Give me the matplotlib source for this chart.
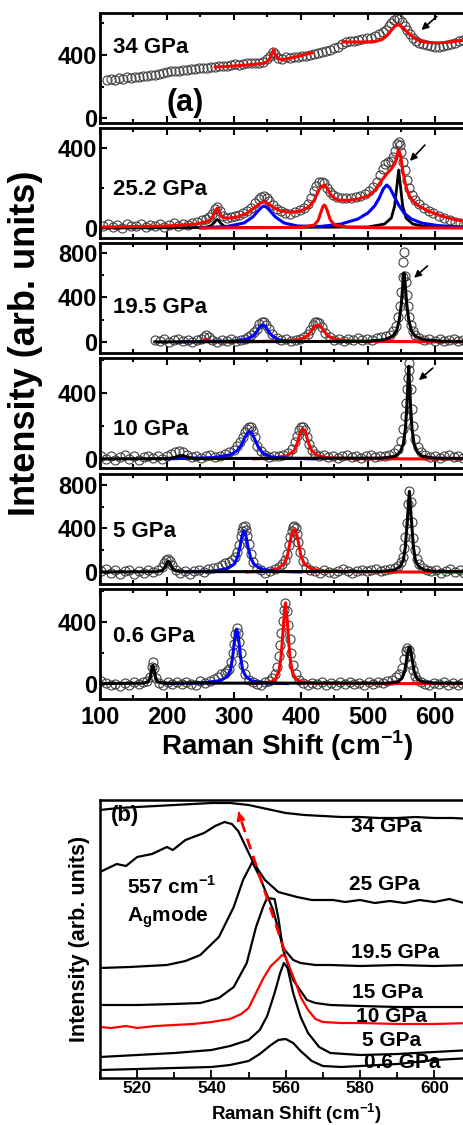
import numpy as np
import matplotlib
matplotlib.use("Agg")
import matplotlib.pyplot as plt
from matplotlib.ticker import MultipleLocator, NullLocator

plt.rcParams['font.family'] = ['Liberation Sans', 'DejaVu Sans']
plt.rcParams['font.weight'] = 'bold'
plt.rcParams['mathtext.fontset'] = 'custom'
plt.rcParams['mathtext.rm'] = 'Liberation Sans:bold'
plt.rcParams['mathtext.bf'] = 'Liberation Sans:bold'
plt.rcParams['axes.unicode_minus'] = False

# ---------------- panel (a) data ----------------
# 34 GPa
x1 = [110, 116, 122, 128, 134, 140, 146, 152, 158, 164,
      170, 176, 182, 188, 194, 200, 206, 212, 218, 224,
      230, 236, 242, 248, 254, 260, 266, 272, 278, 284,
      290, 296, 302, 308, 314, 320, 326, 332, 338, 344,
      350, 354, 358, 362, 366, 372, 378, 384, 390, 396,
      402, 408, 414, 420, 426, 432, 438, 444, 450, 456,
      462, 468, 474, 480, 486, 492, 498, 504, 510, 516,
      522, 527, 531, 535, 539, 543, 547, 551, 555, 559,
      563, 567, 572, 577, 582, 588, 594, 600, 606, 612,
      618, 624, 630, 636, 642, 648, 654, 660]
y1 = [240, 248, 244, 252, 250, 258, 255, 262, 260, 268,
      266, 274, 272, 280, 285, 290, 296, 300, 298, 306,
      304, 310, 314, 316, 320, 318, 324, 322, 328, 332,
      330, 336, 340, 338, 344, 348, 346, 352, 350, 358,
      372, 395, 420, 405, 380, 372, 385, 378, 390, 385,
      395, 392, 400, 405, 410, 418, 425, 432, 445, 450,
      470, 480, 490, 488, 495, 500, 505, 510, 518, 530,
      545, 560, 580, 600, 620, 635, 630, 610, 585, 560,
      535, 510, 490, 478, 468, 460, 455, 452, 450, 455,
      460, 468, 475, 485, 495, 505, 510, 515]
fit1a_x = [272, 300, 330, 345, 352, 356, 359, 362, 366, 372, 390, 416]
fit1a_y = [324, 330, 340, 348, 365, 400, 432, 400, 375, 370, 385, 413]
fit1b_x = [463, 490, 510, 520, 528, 535, 541, 546, 552, 560, 570, 580, 592, 605, 620, 640, 660]
fit1b_y = [482, 482, 484, 495, 520, 555, 585, 590, 575, 540, 505, 485, 478, 476, 480, 492, 505]

# 25.2 GPa
x2 = [105, 112, 119, 126, 133, 140, 147, 154, 161, 168,
      175, 182, 189, 196, 203, 210, 217, 224, 231, 238,
      245, 252, 258, 263, 267, 271, 275, 279, 284, 290,
      296, 302, 308, 314, 320, 326, 332, 337, 341, 345,
      349, 353, 358, 364, 370, 377, 384, 391, 398, 404,
      410, 415, 419, 423, 427, 431, 435, 439, 443, 448,
      454, 461, 468, 475, 482, 489, 496, 502, 508, 513,
      518, 522, 526, 530, 534, 538, 541, 544, 546, 548,
      550, 553, 556, 559, 562, 566, 571, 577, 584, 591,
      598, 606, 614, 622, 630, 638, 646, 654]
y2 = [10, 20, 5, 15, 0, 18, 8, 12, 22, 5,
      15, 10, 20, 5, 15, 25, 10, 20, 15, 25,
      30, 40, 45, 55, 70, 95, 105, 85, 60, 50,
      55, 60, 65, 75, 85, 100, 125, 145, 155, 160,
      150, 135, 115, 95, 85, 75, 72, 80, 90, 100,
      120, 150, 185, 210, 228, 232, 225, 200, 180, 165,
      155, 150, 152, 150, 155, 160, 172, 185, 205, 230,
      265, 295, 320, 330, 335, 355, 385, 420, 430, 415,
      380, 330, 290, 240, 200, 165, 140, 120, 100, 85,
      75, 60, 50, 40, 30, 25, 18, 15]
tot2_x = [105, 200, 245, 262, 268, 272, 275, 278, 282, 290, 305, 320, 332, 340, 345, 350,
          358, 370, 385, 400, 412, 420, 426, 430, 435, 440, 446, 455, 470, 485, 500, 510,
          520, 528, 535, 540, 543, 546, 549, 552, 556, 560, 566, 575, 590, 610, 630, 660]
tot2_y = [5, 10, 20, 35, 55, 85, 100, 80, 55, 48, 55, 75, 105, 125, 130, 125,
          105, 85, 78, 85, 105, 140, 185, 205, 215, 195, 160, 140, 138, 145, 160, 185,
          235, 270, 295, 320, 355, 390, 360, 290, 220, 175, 140, 112, 85, 60, 42, 25]
blue2_x = [250, 290, 315, 328, 336, 341, 345, 349, 354, 362, 375, 395, 430, 460, 485,
           500, 510, 517, 523, 528, 533, 539, 546, 554, 565, 580, 605, 635, 660]
blue2_y = [0, 8, 25, 55, 85, 103, 110, 103, 85, 55, 25, 10, 8, 20, 45,
           75, 110, 150, 195, 215, 200, 160, 115, 75, 45, 25, 12, 6, 4]
red2_x = [250, 400, 420, 426, 430, 433, 435, 437, 440, 444, 450, 470, 520, 660]
red2_y = [0, 3, 15, 40, 80, 108, 115, 108, 80, 40, 15, 4, 1, 0]
blk2_x = [105, 255, 265, 270, 273, 275, 277, 280, 285, 300, 500, 525, 535, 540, 543, 546,
          549, 552, 557, 567, 585, 620, 660]
blk2_y = [0, 2, 10, 25, 38, 42, 38, 25, 10, 2, 5, 20, 50, 110, 200, 290,
          200, 110, 50, 20, 8, 3, 2]

# 19.5 GPa
x3 = [182, 189, 196, 203, 210, 217, 224, 231, 238, 245,
      251, 255, 259, 263, 268, 275, 282, 289, 296, 303,
      310, 316, 321, 326, 330, 334, 338, 342, 345, 348,
      352, 357, 364, 371, 378, 385, 392, 399, 405, 410,
      414, 418, 421, 424, 427, 431, 436, 443, 450, 457,
      464, 471, 478, 485, 492, 499, 506, 513, 520, 527,
      533, 538, 542, 545, 548, 550, 552, 553, 554, 555,
      557, 558, 560, 562, 564, 567, 571, 577, 584, 592,
      600, 607, 614, 621, 628, 635, 642, 649, 656]
y3 = [20, 5, 25, 0, 15, 30, 5, 20, -5, 15,
      25, 45, 60, 40, 15, 0, 20, 5, 25, 10,
      20, 30, 45, 60, 85, 120, 160, 180, 175, 155,
      115, 70, 35, 15, 25, 5, 20, 30, 45, 70,
      110, 150, 175, 180, 170, 130, 80, 40, 20, 30,
      10, 25, 15, 35, 20, 30, 15, 35, 40, 50,
      65, 95, 140, 220, 320, 450, 580, 720, 810, 590,
      540, 420, 320, 220, 150, 95, 60, 35, 20, 30,
      10, 25, 5, 20, 30, 10, 20, 5, 15]
blk3_x = [182, 500, 525, 537, 543, 547, 550, 552, 554, 556, 558, 561, 565, 571, 583, 610, 656]
blk3_y = [0, 5, 20, 50, 100, 200, 340, 500, 620, 500, 340, 200, 100, 50, 20, 6, 3]
blue3_x = [220, 300, 320, 330, 335, 339, 343, 347, 351, 356, 366, 385]
blue3_y = [0, 8, 25, 60, 100, 140, 153, 140, 100, 60, 20, 3]
red3_x = [250, 255, 259, 263, 268, 330, 380, 400, 410, 415, 419, 422, 425, 428, 431,
          435, 440, 450, 470, 520, 600, 656]
red3_y = [0, 12, 25, 12, 0, 3, 10, 25, 55, 95, 130, 145, 150, 145, 130,
          95, 55, 25, 10, 4, 1, 0]

# 10 GPa
x4 = [102, 109, 116, 123, 130, 137, 144, 151, 158, 165,
      172, 179, 186, 193, 200, 206, 212, 218, 224, 230,
      237, 244, 251, 258, 265, 272, 279, 286, 293, 300,
      305, 309, 313, 316, 319, 322, 325, 328, 331, 335,
      340, 346, 353, 360, 367, 374, 381, 387, 391, 394,
      397, 400, 403, 406, 409, 412, 416, 421, 427, 434,
      441, 448, 455, 462, 469, 476, 483, 490, 497, 504,
      511, 518, 525, 532, 539, 545, 550, 553, 555, 557,
      559, 560, 561, 562, 564, 566, 568, 571, 575, 580,
      586, 593, 600, 607, 614, 621, 628, 635, 642, 649,
      656]
y4 = [15, 0, 20, -5, 10, 25, 0, 15, -8, 10,
      20, 5, 15, 0, 20, 30, 40, 45, 40, 25,
      10, 20, 5, 15, 25, 10, 20, 30, 40, 55,
      75, 100, 130, 160, 180, 190, 190, 170, 130, 80,
      45, 25, 10, 20, 15, 25, 35, 60, 100, 140,
      175, 195, 195, 175, 130, 90, 55, 30, 15, 25,
      10, 20, 5, 15, 25, 10, 20, 5, 15, 25,
      10, 20, 15, 25, 35, 60, 110, 180, 260, 340,
      420, 490, 580, 540, 420, 300, 200, 120, 70, 40,
      25, 10, 20, 5, 15, 25, 10, 20, 5, 15,
      20]
blk4_x = [102, 200, 212, 218, 222, 226, 232, 245, 520, 540, 548, 553, 556, 558, 560, 561,
          562, 564, 566, 569, 574, 582, 600, 660]
blk4_y = [0, 2, 8, 18, 20, 18, 8, 2, 5, 15, 40, 90, 180, 300, 470, 560,
          470, 300, 180, 90, 40, 15, 5, 2]
blue4_x = [200, 270, 295, 305, 312, 317, 321, 324, 327, 331, 336, 343, 355, 380, 420]
blue4_y = [0, 8, 25, 50, 90, 135, 160, 165, 155, 120, 75, 35, 12, 4, 0]
red4_x = [330, 360, 380, 390, 395, 399, 403, 407, 411, 416, 425, 440, 480, 560, 660]
red4_y = [0, 6, 20, 50, 100, 160, 180, 160, 100, 50, 20, 6, 2, 0, 0]

# 5 GPa
x5 = [102, 109, 116, 123, 130, 137, 144, 151, 158, 165,
      172, 179, 186, 192, 196, 199, 202, 205, 208, 213,
      220, 227, 234, 241, 248, 255, 262, 269, 276, 282,
      287, 292, 297, 301, 304, 307, 310, 312, 314, 316,
      318, 320, 322, 325, 329, 334, 340, 347, 354, 361,
      367, 372, 376, 379, 382, 384, 386, 388, 390, 392,
      394, 396, 399, 403, 408, 414, 421, 428, 435, 442,
      449, 456, 463, 470, 477, 484, 491, 498, 505, 512,
      519, 526, 533, 540, 545, 549, 552, 554, 556, 558,
      560, 562, 564, 566, 568, 570, 573, 577, 582, 588,
      595, 602, 609, 616, 623, 630, 637, 644, 651, 658]
y5 = [10, 25, -10, 15, -20, 5, 20, -15, 10, -5,
      15, 0, 20, 45, 85, 110, 115, 100, 60, 20,
      -10, 10, -15, 5, 20, 0, 25, 35, 45, 60,
      80, 95, 110, 140, 180, 250, 330, 380, 410, 420,
      390, 330, 260, 170, 90, 40, 15, -5, 10, 25,
      45, 70, 110, 170, 250, 320, 380, 410, 420, 400,
      350, 280, 180, 100, 50, 20, 5, -10, 15, 0,
      -12, 10, 25, 5, -8, 12, 20, 5, 15, 25,
      10, 20, 25, 35, 55, 90, 140, 220, 320, 450,
      620, 745, 640, 460, 310, 200, 120, 70, 40, 20,
      5, 15, -5, 10, 25, 0, 15, -10, 5, 10]
blk5_x = [102, 185, 193, 197, 200, 202, 204, 207, 211, 220, 520, 540, 548, 553, 556, 559,
          562, 565, 568, 571, 576, 584, 600, 660]
blk5_y = [0, 3, 15, 45, 85, 100, 85, 45, 15, 3, 5, 20, 50, 110, 230, 480,
          740, 480, 230, 110, 50, 20, 6, 2]
blue5_x = [230, 270, 290, 300, 305, 309, 312, 315, 318, 321, 325, 330, 340, 360, 400]
blue5_y = [0, 10, 30, 70, 130, 230, 330, 380, 330, 230, 130, 70, 30, 8, 0]
red5_x = [320, 350, 365, 375, 380, 383, 386, 390, 394, 397, 400, 405, 415, 430, 480, 560, 660]
red5_y = [0, 10, 30, 75, 150, 250, 340, 390, 340, 250, 150, 75, 30, 10, 3, 0, 0]

# 0.6 GPa
x6 = [102, 109, 116, 123, 130, 137, 144, 151, 158, 164,
      170, 174, 177, 179, 181, 184, 188, 194, 201, 208,
      215, 222, 229, 236, 243, 250, 257, 264, 270, 276,
      281, 286, 290, 293, 296, 298, 300, 302, 304, 306,
      308, 310, 313, 317, 322, 328, 334, 340, 346, 352,
      357, 361, 364, 367, 369, 371, 373, 375, 377, 379,
      381, 383, 385, 388, 392, 397, 403, 410, 417, 424,
      431, 438, 445, 452, 459, 466, 473, 480, 487, 494,
      501, 508, 515, 522, 529, 536, 542, 547, 551, 554,
      557, 559, 561, 563, 565, 567, 570, 574, 579, 585,
      592, 599, 606, 613, 620, 627, 634, 641, 648, 655]
y6 = [20, 5, -10, 0, -15, 5, -8, 10, -5, 8,
      15, 45, 110, 140, 100, 35, 5, -10, 8, -5,
      10, -3, 12, 0, -8, 15, 5, 20, 30, 45,
      60, 70, 80, 95, 140, 200, 260, 320, 360, 330,
      270, 200, 120, 60, 25, 10, 0, -8, 10, 20,
      35, 60, 110, 180, 250, 330, 410, 480, 525, 470,
      380, 290, 200, 120, 60, 25, 5, -10, 5, -5,
      10, -8, 3, -12, 8, -5, 10, -3, 5, -10,
      8, 0, 12, 5, 15, 25, 40, 65, 100, 160,
      210, 230, 220, 180, 130, 90, 50, 25, 10, 0,
      -10, 5, -5, 10, -8, 5, -12, 3, -5, 8]
blk6_x = [102, 165, 172, 175, 177, 179, 181, 183, 186, 193, 530, 545, 551, 555, 558, 560,
          562, 564, 566, 569, 573, 580, 595, 660]
blk6_y = [0, 3, 12, 40, 90, 118, 90, 40, 12, 3, 3, 12, 35, 80, 160, 215,
          236, 215, 160, 80, 35, 12, 4, 1]
blue6_x = [200, 260, 280, 290, 295, 298, 301, 304, 307, 310, 313, 318, 328, 350, 380]
blue6_y = [0, 8, 20, 45, 90, 170, 290, 354, 290, 170, 90, 45, 15, 4, 0]
red6_x = [330, 355, 362, 367, 370, 372, 374, 377, 380, 382, 384, 387, 392, 400, 420, 500, 560, 660]
red6_y = [0, 10, 30, 80, 160, 260, 390, 525, 390, 260, 160, 80, 30, 12, 4, 1, 0, 0]

# ---------------- panel (b) data ----------------
b34_x = [510, 515, 520, 525, 530, 535, 540, 545, 550, 555, 560, 565, 570, 575, 580, 585, 590, 595, 600, 605, 610]
b34_y = [268, 270, 271, 272, 273, 274, 275, 275, 273, 269, 265, 263, 262, 261, 261, 260, 260, 261, 260, 260, 259]
b25_x = [510, 514.5, 517, 520, 524, 528, 529.6, 533, 538, 541, 543.5, 545.5, 547.2, 551.2, 554.4, 558,
         563, 567, 572.7, 576, 580, 584, 588, 592, 596, 600, 604, 608, 610]
b25_y = [206, 214, 212, 221, 224, 231, 228, 238, 245, 252, 256, 254, 247, 216, 198, 186,
         181, 178, 178, 176, 178, 175, 177, 175, 178, 176, 179, 175, 177]
b195_x = [510, 518, 528, 533, 537, 542, 546, 548.5, 551, 553, 556.6, 559.3, 562, 564, 568, 572, 580, 590, 600, 610]
b195_y = [110, 111, 113, 117, 123, 141, 171, 198, 216, 201, 168, 130, 118, 115, 113, 113, 112, 113, 112, 113]
b15_x = [510, 520, 530, 537, 542, 546, 549.5, 552, 554, 555, 557, 558, 559.3, 562, 565.7, 568, 572, 580, 590, 600, 610]
b15_y = [73, 73, 74, 75, 80, 91, 115, 151, 172, 180, 179, 160, 128, 98, 78, 75, 73, 72, 71, 71, 71]
b10_x = [510, 513, 517, 520, 525, 530, 535, 540, 545, 548, 550, 552, 554, 556, 558, 559, 560,
         561, 563, 564, 566, 568, 570, 575, 580, 590, 600, 610]
b10_y = [51, 50, 52, 50, 52, 53, 54, 56, 59, 64, 70, 85, 100, 112, 119, 123, 121,
         111, 92, 81, 68, 59, 56, 55, 55, 54, 54, 55]
b5_x = [510, 520, 530, 540, 545, 550, 553, 555, 557, 558.5, 559.5, 560.5, 562, 564, 566, 569, 572, 580, 590, 600, 610]
b5_y = [21, 23, 25, 28, 32, 38, 48, 62, 85, 105, 115, 110, 85, 61, 45, 31, 25, 23, 24, 26, 28]
b06_x = [510, 520, 530, 540, 545, 550, 553, 556, 558, 560, 562, 564, 567, 570, 575, 580, 590, 600, 610]
b06_y = [8, 9, 10, 11, 13, 17, 24, 33, 38, 39, 35, 27, 17, 12, 11, 12, 14, 18, 20]
shift_x = [559.8, 547.6]
shift_y = [126, 262]

# ---------------- figure ----------------
W, H = 464, 1125
fig = plt.figure(figsize=(W / 100, H / 100), dpi=100)


def frac(px_left, px_top, px_right, px_bottom):
    return [px_left / W, 1 - px_bottom / H, (px_right - px_left) / W, (px_bottom - px_top) / H]


RED, BLUE, BLK = '#ff0000', '#0000ff', '#000000'
tops = [13, 128, 243, 358, 474, 589]
ylims = [(-30, 665), (-50, 500), (-100, 890), (-55, 610), (-110, 900), (-100, 615)]
yticks = [[0, 400], [0, 400], [0, 400, 800], [0, 400], [0, 400, 800], [0, 400]]
labels = ['34 GPa', '25.2 GPa', '19.5 GPa', '10 GPa', '5 GPa', '0.6 GPa']
label_y = [450, 190, 306, 176, 372, 308]
circles = [(x1, y1), (x2, y2), (x3, y3), (x4, y4), (x5, y5), (x6, y6)]

axes = []
for i in range(6):
    ax = fig.add_axes(frac(100, tops[i], 475, tops[i] + 110))
    ax.set_xlim(100, 660)
    ax.set_ylim(*ylims[i])
    ax.set_yticks(yticks[i])
    ax.yaxis.set_minor_locator(MultipleLocator(200))
    ax.xaxis.set_major_locator(MultipleLocator(100))
    ax.xaxis.set_minor_locator(MultipleLocator(50))
    ax.tick_params(which='both', direction='in', top=True, right=False, width=1.5)
    ax.tick_params(which='major', length=5, labelsize=17, pad=2)
    ax.tick_params(which='minor', length=3)
    for s in ax.spines.values():
        s.set_linewidth(2)
    if i < 5:
        ax.tick_params(labelbottom=False)
    else:
        ax.tick_params(axis='x', pad=5)
    cx, cy = circles[i]
    ax.plot(cx, cy, 'o', ms=6.5, mfc='none', mec='#404040', mew=0.8, zorder=2)
    ax.text(120, label_y[i], labels[i], fontsize=16, fontweight='bold', va='center', ha='left')
    axes.append(ax)

a1, a2, a3, a4, a5, a6 = axes
a1.plot(fit1a_x, fit1a_y, color=RED, lw=2.2, zorder=3)
a1.plot(fit1b_x, fit1b_y, color=RED, lw=2.2, zorder=3)
a1.text(227, 95, '(a)', fontsize=22, fontweight='bold', ha='center', va='center')
a1.annotate('', xy=(577, 546), xytext=(606, 655),
            arrowprops=dict(arrowstyle='-|>', color='black', lw=1.2, mutation_scale=10))

a2.plot(blk2_x, blk2_y, color=BLK, lw=2, zorder=3)
a2.plot(blue2_x, blue2_y, color=BLUE, lw=2.2, zorder=3)
a2.plot(red2_x, red2_y, color=RED, lw=2.2, zorder=3)
a2.plot(tot2_x, tot2_y, color=RED, lw=2.2, zorder=4)
a2.annotate('', xy=(560, 325), xytext=(588, 425),
            arrowprops=dict(arrowstyle='-|>', color='black', lw=1.2, mutation_scale=10))

for ax, bk, bl, rd in [(a3, (blk3_x, blk3_y), (blue3_x, blue3_y), (red3_x, red3_y)),
                       (a4, (blk4_x, blk4_y), (blue4_x, blue4_y), (red4_x, red4_y)),
                       (a5, (blk5_x, blk5_y), (blue5_x, blue5_y), (red5_x, red5_y)),
                       (a6, (blk6_x, blk6_y), (blue6_x, blue6_y), (red6_x, red6_y))]:
    ax.plot(rd[0], rd[1], color=RED, lw=2.2, zorder=3)
    ax.plot(bl[0], bl[1], color=BLUE, lw=2.2, zorder=3)
    ax.plot(bk[0], bk[1], color=BLK, lw=2.2, zorder=4)

a3.annotate('', xy=(566, 560), xytext=(592, 700),
            arrowprops=dict(arrowstyle='-|>', color='black', lw=1.2, mutation_scale=10))
a4.annotate('', xy=(573, 465), xytext=(600, 560),
            arrowprops=dict(arrowstyle='-|>', color='black', lw=1.2, mutation_scale=10))

a6.set_xlabel('Raman Shift (cm$^{-1}$)', fontsize=20, fontweight='bold', labelpad=0)
fig.text(26 / W, 1 - 343 / H, 'Intensity (arb. units)', rotation=90, fontsize=26,
         fontweight='bold', ha='center', va='center')

# ---------------- panel (b) ----------------
axb = fig.add_axes(frac(100, 800, 471.5, 1078))
axb.set_xlim(510, 610)
axb.set_ylim(0, 278)
axb.yaxis.set_major_locator(NullLocator())
axb.xaxis.set_major_locator(MultipleLocator(20))
axb.xaxis.set_minor_locator(MultipleLocator(10))
axb.tick_params(which='both', direction='in', width=1.3)
axb.tick_params(which='major', length=6, labelsize=12.5, pad=2.5)
axb.tick_params(which='minor', length=4)
for s in axb.spines.values():
    s.set_linewidth(1.8)

for bx, by, c in [(b34_x, b34_y, BLK), (b25_x, b25_y, BLK), (b195_x, b195_y, BLK),
                  (b15_x, b15_y, BLK), (b10_x, b10_y, RED), (b5_x, b5_y, BLK), (b06_x, b06_y, BLK)]:
    axb.plot(bx, by, color=c, lw=1.6)

axb.plot(shift_x, shift_y, color=RED, lw=2, ls=(0, (4, 2.5)))
axb.annotate('', xy=(shift_x[1] - 0.5, shift_y[1] + 7), xytext=(shift_x[1], shift_y[1]),
             arrowprops=dict(arrowstyle='-|>', color=RED, lw=1.5, mutation_scale=12))

blabels = ['34 GPa', '25 GPa', '19.5 GPa', '15 GPa', '10 GPa', '5 GPa', '0.6 GPa']
blab_x = [577.5, 577.0, 577.5, 577.8, 578.9, 580.5, 581.0]
blab_y = [251, 193, 126, 86, 61, 38, 16]
for t, lx, ly in zip(blabels, blab_x, blab_y):
    axb.text(lx, ly, t, fontsize=15, fontweight='bold', ha='left', va='center')

axb.text(517.3, 191, '557 cm$^{-1}$', fontsize=15, fontweight='bold', ha='left', va='center')
axb.text(517.3, 161, 'A$_\\mathregular{g}$mode', fontsize=15, fontweight='bold', ha='left', va='center')
axb.text(513, 263, '(b)', fontsize=16, fontweight='bold', ha='left', va='center')
fig.text(296 / W, 1 - 1120 / H, 'Raman Shift (cm$^{-1}$)', fontsize=13.5, fontweight='bold',
         ha='center', va='baseline')
fig.text(80 / W, 1 - 939 / H, 'Intensity (arb. units)', rotation=90, fontsize=15.5,
         fontweight='bold', ha='center', va='center')

fig.savefig('out.png', dpi=100)
